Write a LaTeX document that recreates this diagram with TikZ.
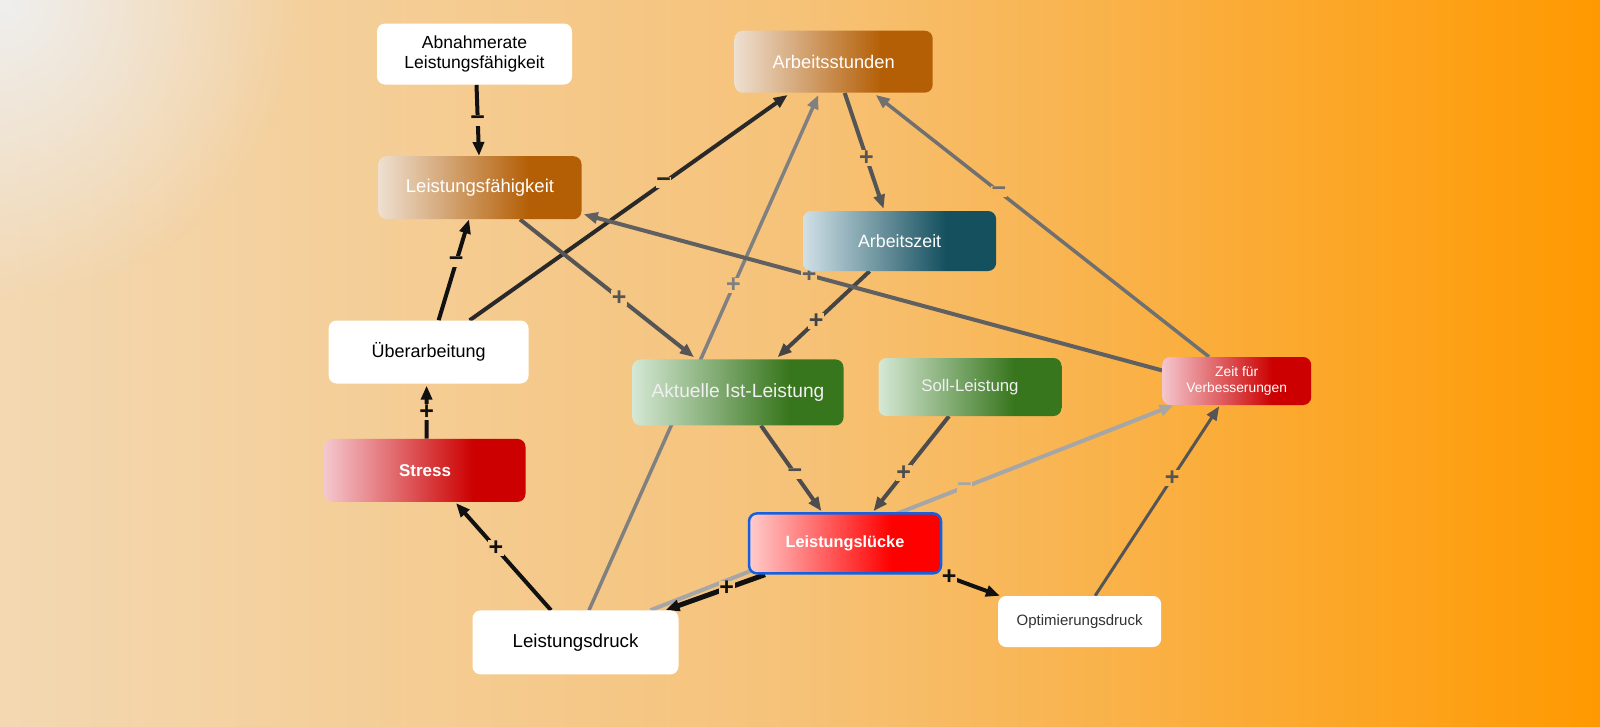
\documentclass[tikz,border=0pt]{standalone}
\usepackage{fontspec}
\setmainfont{Liberation Sans}
\usetikzlibrary{arrows.meta,fadings}

\definecolor{bgA}{HTML}{F3D8B2}
\definecolor{bgB}{HTML}{F6C278}
\definecolor{bgC}{HTML}{FF9900}
\definecolor{bgW}{HTML}{EFEFEF}
\pgfdeclarehorizontalshading{bgsh}{100bp}{color(0bp)=(bgA); color(25bp)=(bgA); color(50bp)=(bgB); color(75bp)=(bgC); color(100bp)=(bgC)}

\definecolor{brL}{HTML}{EEDFD0}\definecolor{brD}{HTML}{B45F06}
\definecolor{teL}{HTML}{D0E0E6}\definecolor{teD}{HTML}{15505F}
\definecolor{grL}{HTML}{D5E8D4}\definecolor{grD}{HTML}{38761D}
\definecolor{rdL}{HTML}{F4C7CE}\definecolor{rdD}{HTML}{CC0000}
\definecolor{brrL}{HTML}{FFCCCC}\definecolor{brrD}{HTML}{FF0000}
\pgfdeclarehorizontalshading{brownsh}{100bp}{color(0bp)=(brL); color(25bp)=(brL); color(62bp)=(brD); color(100bp)=(brD)}
\pgfdeclarehorizontalshading{tealsh}{100bp}{color(0bp)=(teL); color(25bp)=(teL); color(62bp)=(teD); color(100bp)=(teD)}
\pgfdeclarehorizontalshading{greensh}{100bp}{color(0bp)=(grL); color(25bp)=(grL); color(62bp)=(grD); color(100bp)=(grD)}
\pgfdeclarehorizontalshading{redsh}{100bp}{color(0bp)=(rdL); color(25bp)=(rdL); color(62bp)=(rdD); color(100bp)=(rdD)}
\pgfdeclarehorizontalshading{brightsh}{100bp}{color(0bp)=(brrL); color(25bp)=(brrL); color(62bp)=(brrD); color(100bp)=(brrD)}

\definecolor{eBlk}{HTML}{111111}
\definecolor{eG3}{HTML}{444444}
\definecolor{eG4}{HTML}{4D4D4D}
\definecolor{eG5}{HTML}{555555}
\definecolor{eG6}{HTML}{606060}
\definecolor{eG7}{HTML}{707070}
\definecolor{eG8}{HTML}{808080}
\definecolor{eGL}{HTML}{A6A6A6}
\definecolor{lueBorder}{HTML}{1460E0}

\tikzfading[name=tlfade, inner color=transparent!0, outer color=transparent!100]

\pgfdeclarelayer{bglayer}\pgfdeclarelayer{edgelayer}
\pgfsetlayers{bglayer,edgelayer,main}

\tikzset{
  base/.style={rounded corners=8pt, align=center, inner sep=2pt, font=\fontsize{18}{21}\selectfont},
  wbox/.style={base, fill=white, text=black},
  cbox/.style={base, shade, shading=#1, text=white},
  e/.style={line width=4pt, -{Triangle[length=14pt,width=11pt]}},
  lbl/.style={font=\fontsize{25}{25}\selectfont\bfseries, inner sep=0.5pt},
}

\begin{document}
\begin{tikzpicture}[x=1pt,y=-1pt]
\useasboundingbox (0,0) rectangle (1600,726);

% nodes
\node[wbox, minimum width=195pt, minimum height=61pt, font=\fontsize{17.5}{20.3}\selectfont] (abn) at (474.5,54) {Abnahmerate\\Leistungsfähigkeit};
\node[cbox=brownsh, minimum width=198pt, minimum height=62pt, font=\fontsize{18.3}{21}\selectfont] (arbst) at (833.7,61.7) {Arbeitsstunden};
\node[cbox=brownsh, minimum width=203pt, minimum height=63pt, font=\fontsize{18.5}{21}\selectfont] (lf) at (480,187.7) {Leistungsfähigkeit};
\node[cbox=tealsh, minimum width=193pt, minimum height=60pt, font=\fontsize{17.8}{21}\selectfont] (az) at (899.6,241) {Arbeitszeit};
\node[wbox, minimum width=200pt, minimum height=63pt, font=\fontsize{18}{21}\selectfont] (ueb) at (428.6,352) {Überarbeitung};
\node[cbox=greensh, minimum width=211pt, minimum height=66pt, font=\fontsize{19.2}{22}\selectfont, text=white!94!black] (akt) at (738,392.4) {Aktuelle Ist-Leistung};
\node[cbox=greensh, minimum width=183pt, minimum height=58pt, font=\fontsize{16.8}{20}\selectfont, text=white!94!black] (soll) at (970,387) {Soll-Leistung};
\node[cbox=redsh, minimum width=149pt, minimum height=48pt, font=\fontsize{13.8}{16.7}\selectfont] (zeit) at (1236.7,381) {Zeit für\\Verbesserungen};
\node[cbox=redsh, minimum width=201pt, minimum height=63pt, font=\fontsize{17}{20}\selectfont\bfseries] (stress) at (425,470.4) {Stress};
\node[cbox=brightsh, draw=lueBorder, line width=2.5pt, minimum width=192pt, minimum height=60pt, font=\fontsize{16.3}{20}\selectfont\bfseries] (lue) at (845,543.4) {Leistungslücke};
\node[wbox, minimum width=206pt, minimum height=64pt, font=\fontsize{18.7}{21}\selectfont] (ldr) at (575.5,642.4) {Leistungsdruck};
\node[wbox, minimum width=163pt, minimum height=51pt, font=\fontsize{15}{18}\selectfont, text=black!80] (opt) at (1079.6,621.5) {Optimierungsdruck};

\begin{pgfonlayer}{bglayer}
\shade[shading=bgsh] (0,0) rectangle (1600,726);
\fill[bgW, path fading=tlfade] (0,0) circle (300);
\end{pgfonlayer}

\begin{pgfonlayer}{edgelayer}
% light gray, behind Leistungsluecke
\draw[e, color=eGL] ([xshift=75pt]ldr.north) -- node[lbl, pos=0.6, fill=bgC!21!bgB]{−} ([xshift=-63pt]zeit.south);
\draw[e, color=eBlk] ([xshift=2pt]abn.south) -- node[lbl, pos=0.5, fill=bgB!60!bgA]{−} ([xshift=-1pt]lf.north);
\draw[e, color=eBlk] ([xshift=10pt]ueb.north) -- node[lbl, pos=0.58, fill=bgB!57!bgA]{−} ([xshift=-11pt]lf.south);
\draw[e, color=eBlk!90!white] ([xshift=41pt]ueb.north) -- node[lbl, pos=0.61, fill=bgB!83!bgA]{−} ([xshift=-46pt,yshift=-2pt]arbst.south);
\draw[e, color=eBlk] ([xshift=1.5pt]stress.north) -- node[lbl, pos=0.5, fill=bgB!53!bgA]{+} ([xshift=-2pt,yshift=-2pt]ueb.south);
\draw[e, color=eBlk] ([xshift=-24.5pt]ldr.north) -- node[lbl, pos=0.58, fill=bgB!62!bgA]{+} ([xshift=31pt,yshift=-1pt]stress.south);
\draw[e, color=eBlk, line width=5pt] ([xshift=-80pt]lue.south) -- node[lbl, pos=0.385, fill=bgB!91!bgA]{+} ([xshift=90pt]ldr.north);
\draw[e, color=eBlk] (lue.south east) -- node[lbl, pos=0.12, fill=bgC!18!bgB]{+} ([xshift=2pt]opt.north west);
\draw[e, color=eG5, line width=3pt] ([xshift=15.5pt]opt.north) -- node[lbl, pos=0.62, fill=bgC!46!bgB]{+} ([xshift=-17.5pt,yshift=-1pt]zeit.south);
\draw[e, color=eG4] ([xshift=-21pt]soll.south) -- node[lbl, pos=0.6, fill=bgC!13!bgB]{+} ([xshift=28.5pt,yshift=1pt]lue.north);
\draw[e, color=eG4] ([xshift=23pt]akt.south) -- node[lbl, pos=0.56, fill=bgB]{−} ([xshift=-23.6pt,yshift=1pt]lue.north);
\draw[e, color=eG8, line width=3.5pt] ([xshift=13.5pt]ldr.north) -- node[lbl, pos=0.63, fill=bgB!92!bgA]{+} ([xshift=-15.3pt,yshift=-2pt]arbst.south);
\draw[e, color=eG5] ([xshift=40pt]lf.south) -- node[lbl, pos=0.57, fill=bgB!77!bgA]{+} ([xshift=-44pt,yshift=2pt]akt.north);
\draw[e, color=eG3] ([xshift=-30pt]az.south) -- node[lbl, pos=0.58, fill=bgB]{+} ([xshift=39.6pt,yshift=2pt]akt.north);
\draw[e, color=eG5] ([xshift=11pt]arbst.south) -- node[lbl, pos=0.56, fill=bgC!9!bgB]{+} ([xshift=-16pt,yshift=2pt]az.north);
\draw[e, color=eG6] ([yshift=10.6pt]zeit.west) -- node[lbl, pos=0.61, fill=bgB]{+} ([xshift=2pt,yshift=-26.6pt]lf.east);
\draw[e, color=eG7, line width=3.5pt] ([xshift=-27.7pt]zeit.north) -- node[lbl, pos=0.63, fill=bgC!25!bgB]{−} ([xshift=42pt,yshift=-2pt]arbst.south);
\end{pgfonlayer}
\end{tikzpicture}
\end{document}
